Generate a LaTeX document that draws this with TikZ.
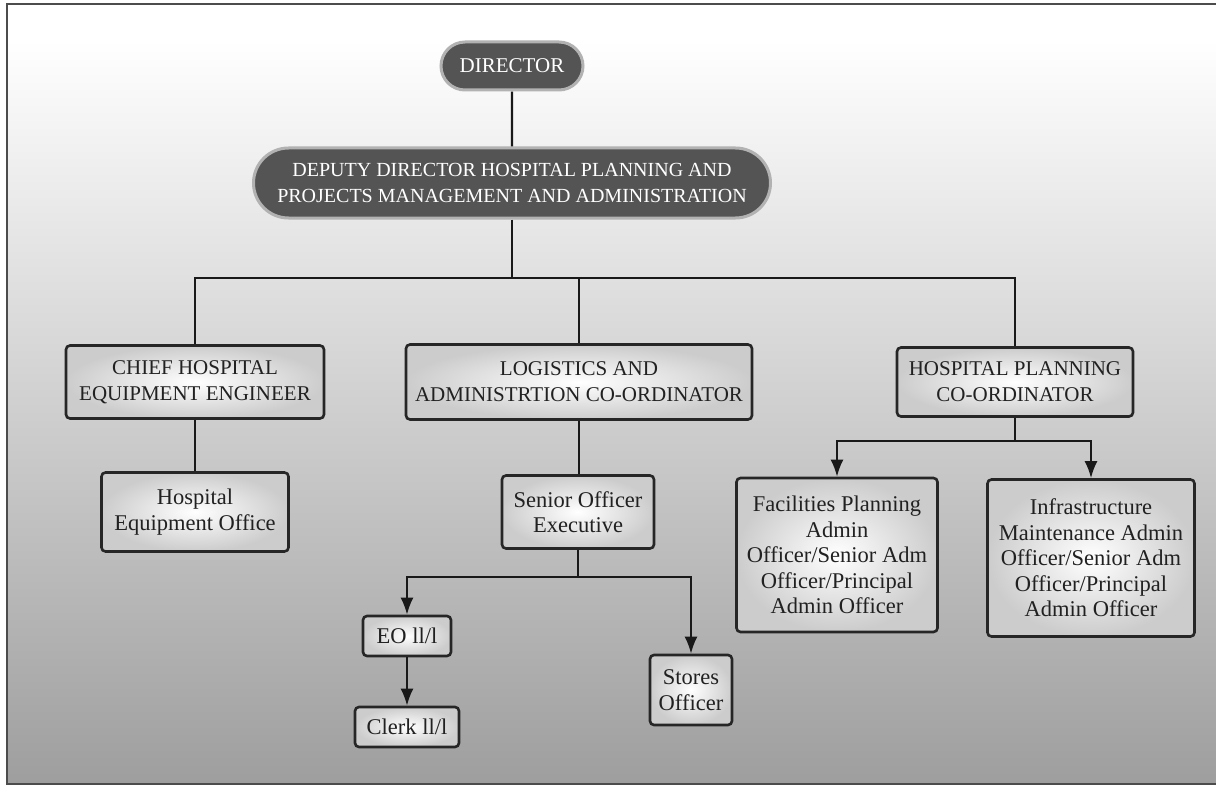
\documentclass[tikz,border=0pt]{standalone}
\usepackage{fontspec}
\setmainfont{Liberation Serif}
\usetikzlibrary{arrows.meta,shapes.misc}

\definecolor{bgmid}{rgb}{0.80,0.80,0.80}
\definecolor{bgbot}{rgb}{0.62,0.62,0.62}
\definecolor{pillfill}{rgb}{0.33,0.33,0.33}
\definecolor{inkcol}{rgb}{0.13,0.13,0.13}

\begin{document}
\begin{tikzpicture}[x=1pt,y=-1pt,
  txt/.style={font=\fontsize{21}{26}\selectfont},
  small/.style={font=\fontsize{22.5}{25.5}\selectfont},
  pill/.style={rounded rectangle, fill=pillfill, draw=black!30, line width=3pt,
    text=white, align=center, txt, inner sep=0pt},
  box/.style={rectangle, rounded corners=4pt, draw=black!85, line width=2.6pt,
    inner color=white, outer color=black!20, text=inkcol, align=center, txt,
    inner sep=0pt},
  lbox/.style={box, small},
  link/.style={draw=black!90, line width=2.2pt},
  arr/.style={link, -{Latex[length=17pt,width=13pt]}}]

  % page and backdrop
  \useasboundingbox (0,0) rectangle (1216,789);
  \fill[white] (0,0) rectangle (1216,789);
  \shade[top color=white, middle color=bgmid, bottom color=bgbot]
    (7,40) rectangle (1240,784);
  \fill[white] (7,4) rectangle (1240,40.5);
  \draw[black!70, line width=1.6pt] (7,4) rectangle (1240,784);

  % bus levels
  \coordinate (busA) at (0,278);
  \coordinate (busB) at (0,577);
  \coordinate (busC) at (0,441);

  % top of the hierarchy
  \node[pill, minimum width=142, minimum height=48] (dir) at (512,66) {DIRECTOR};
  \node[pill, minimum width=517, minimum height=70,
        font=\fontsize{20}{26}\selectfont] (dep) at (512,183)
    {DEPUTY DIRECTOR HOSPITAL PLANNING AND\\PROJECTS MANAGEMENT AND ADMINISTRATION};

  % second level
  \node[box, minimum width=258, minimum height=73] (chief) at (195,382)
    {CHIEF HOSPITAL\\EQUIPMENT ENGINEER};
  \node[box, minimum width=346, minimum height=75] (log) at (579,382)
    {LOGISTICS AND\\ADMINISTRTION CO-ORDINATOR};
  \node[box, minimum width=236, minimum height=69] (hpc) at (1015,382)
    {HOSPITAL PLANNING\\CO-ORDINATOR};

  % third level
  \node[lbox, minimum width=187, minimum height=79] (heo) at (195,512)
    {Hospital\\Equipment Office};
  \node[lbox, minimum width=152, minimum height=73] (soe) at (578,512)
    {Senior Officer\\Executive};
  \node[lbox, minimum width=201, minimum height=154] (fac) at (837,555)
    {Facilities Planning\\Admin\\Officer/Senior Adm\\Officer/Principal\\Admin Officer};
  \node[lbox, minimum width=207, minimum height=157] (inf) at (1091,558)
    {Infrastructure\\Maintenance Admin\\Officer/Senior Adm\\Officer/Principal\\Admin Officer};

  % fourth level
  \node[lbox, minimum width=88, minimum height=40] (eo) at (407,636) {EO ll/l};
  \node[lbox, minimum width=82, minimum height=70] (sto) at (691,690) {Stores\\Officer};
  \node[lbox, minimum width=104, minimum height=40] (clk) at (407,727) {Clerk ll/l};

  % connectors
  \draw[link] (dir) -- (dep);
  \draw[link] (dep.south) -- (dep.south |- busA) -| (chief.north);
  \draw[link] (dep.south |- busA) -| (log.north);
  \draw[link] (dep.south |- busA) -| (hpc.north);
  \draw[link] (chief) -- (heo);
  \draw[link] (log.south) -- (log.south |- soe.north);
  \draw[link] (soe.south) -- (soe.south |- busB);
  \draw[arr] (soe.south |- busB) -| (eo.north);
  \draw[arr] (soe.south |- busB) -| (sto.north);
  \draw[arr] (eo) -- (clk);
  \draw[link] (hpc.south) -- (hpc.south |- busC);
  \draw[arr] (hpc.south |- busC) -| (fac.north);
  \draw[arr] (hpc.south |- busC) -| (inf.north);
\end{tikzpicture}
\end{document}
